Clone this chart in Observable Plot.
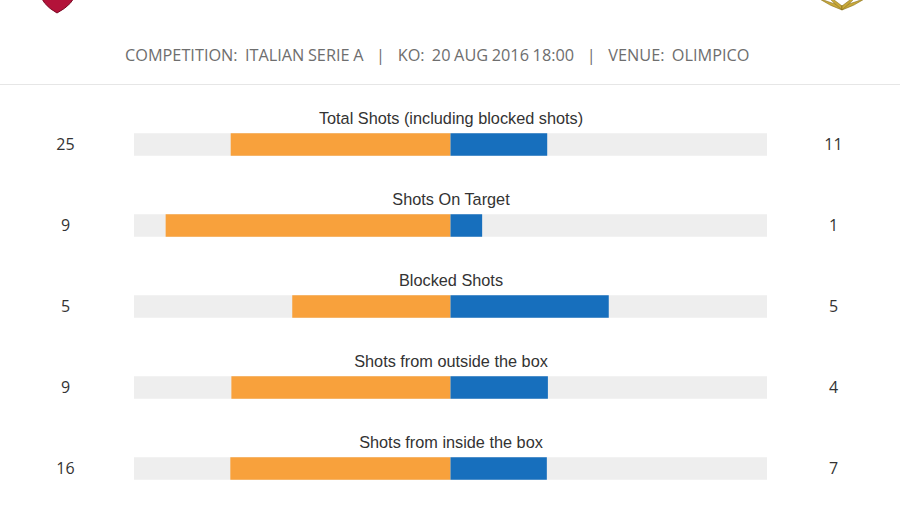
<!DOCTYPE html>
<html>
<head>
<meta charset="utf-8">
<script src="https://cdn.jsdelivr.net/npm/d3@7"></script>
<script src="https://cdn.jsdelivr.net/npm/@observablehq/plot@0.6"></script>
<style>
  html, body { margin: 0; padding: 0; background: #fff; }
  #wrap { position: relative; width: 900px; height: 506px; overflow: hidden; }
  #header { position: relative; height: 84px; border-bottom: 1px solid #e6e6e6; }
  #meta { position: absolute; left: 125px; top: 44px; font-family: "Open Sans", sans-serif; font-size: 16.3px; color: #6e6e6e; white-space: pre; line-height: 22px; word-spacing: -0.6px; }
  #meta .sep { margin: 0 9px; }
  #logoL { position: absolute; left: 38px; top: -22px; }
  #logoR { position: absolute; left: 812px; top: -20px; }
  #chart svg { display: block; }
</style>
</head>
<body>
<div id="wrap">
  <div id="header">
    <svg id="logoL" width="40" height="36" viewBox="0 0 40 36"><path d="M2 0 L38 0 L38 14 Q36 26 19 35 Q3 26 2 14 Z" fill="#b3133a" stroke="#7a0a24" stroke-width="1"/></svg>
    <svg id="logoR" width="60" height="32" viewBox="0 0 60 32">
      <g fill="#c9a93a" stroke="#8a7220" stroke-width="0.6">
        <path d="M30 30 Q18 26 6 18 Q16 22 30 26 Z"/>
        <path d="M30 30 Q20 22 12 12 Q22 20 30 26 Z"/>
        <path d="M30 30 Q42 26 54 18 Q44 22 30 26 Z"/>
        <path d="M30 30 Q40 22 48 12 Q38 20 30 26 Z"/>
      </g>
    </svg>
    <div id="meta">COMPETITION:  ITALIAN SERIE A <span class="sep">|</span> KO:  20 AUG 2016 18:00 <span class="sep">|</span> VENUE:  OLIMPICO</div>
  </div>
  <div id="chart"></div>
</div>
<script>
const categories = [
  "Total Shots (including blocked shots)",
  "Shots On Target",
  "Blocked Shots",
  "Shots from outside the box",
  "Shots from inside the box"
];
const homeValues = [25, 9, 5, 9, 16];
const awayValues = [11, 1, 5, 4, 7];

const rows = categories.map((c, i) => ({
  stat: c,
  home: homeValues[i],
  away: awayValues[i],
  homeShare: homeValues[i] / (homeValues[i] + awayValues[i]),
  awayShare: awayValues[i] / (homeValues[i] + awayValues[i])
}));

const bandStep = 81.5;
const firstBandTop = 17.75;
const chart = Plot.plot({
  width: 900,
  height: 421,
  marginLeft: 134,
  marginRight: 133,
  marginTop: 0,
  marginBottom: 0,
  x: { domain: [-1, 1], axis: null },
  y: { domain: categories, range: [firstBandTop, firstBandTop + bandStep * categories.length], padding: 0, axis: null },
  style: { background: "transparent" },
  marks: [
    Plot.barX(rows, { y: "stat", x1: () => -1, x2: () => 1, fill: "#eeeeee", insetTop: 29.25, insetBottom: 29.25 }),
    Plot.barX(rows, { y: "stat", x1: d => -d.homeShare, x2: () => 0, fill: "#f8a13c", insetTop: 29.25, insetBottom: 29.25 }),
    Plot.barX(rows, { y: "stat", x1: () => 0, x2: d => d.awayShare, fill: "#176fbd", insetTop: 29.25, insetBottom: 29.25 }),
    Plot.text(rows, { y: "stat", x: () => 0, text: "stat", dy: -26, textAnchor: "middle", fontFamily: "Liberation Sans, Arial, sans-serif", fontSize: 16.3, fill: "#333333" }),
    Plot.text(rows, { y: "stat", frameAnchor: "left", dx: -69, text: d => String(d.home), textAnchor: "middle", fontFamily: "Open Sans, sans-serif", fontSize: 16, fill: "#333333" }),
    Plot.text(rows, { y: "stat", frameAnchor: "right", dx: 66, text: d => String(d.away), textAnchor: "middle", fontFamily: "Open Sans, sans-serif", fontSize: 16, fill: "#333333" })
  ]
});
document.getElementById("chart").appendChild(chart);
</script>
</body>
</html>
